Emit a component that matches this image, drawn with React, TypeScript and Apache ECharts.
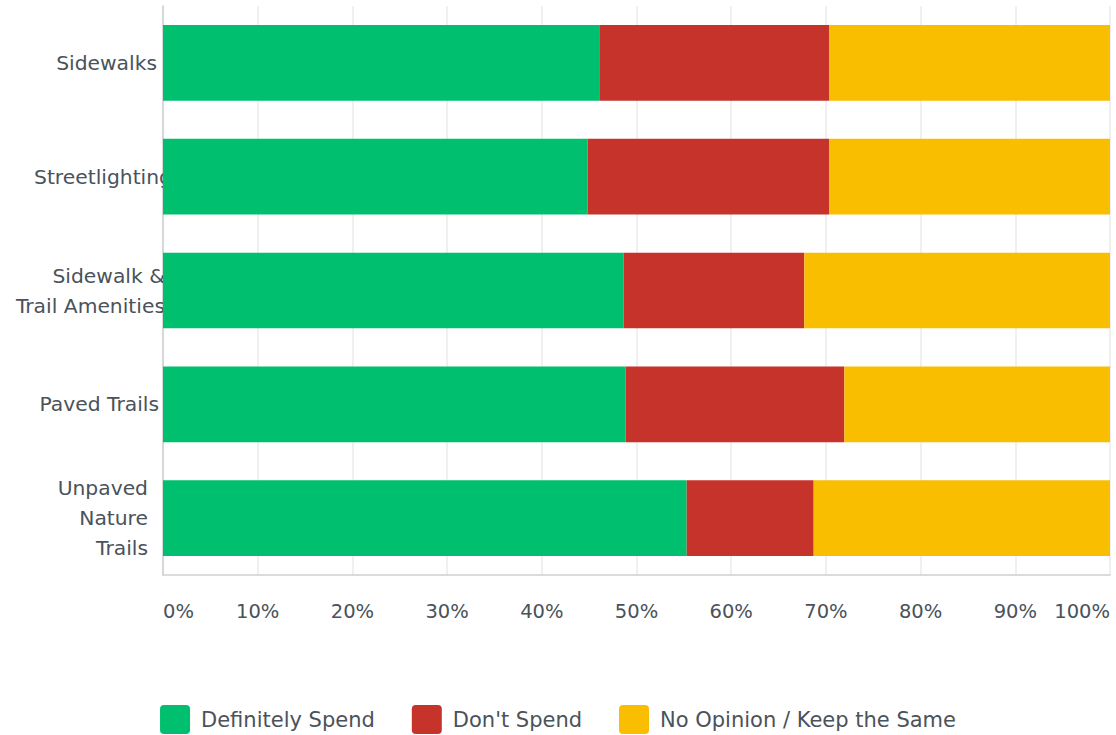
import React, { useEffect, useRef } from "react";
import * as echarts from "echarts";

const categories = [
  "Sidewalks",
  "Streetlighting",
  "Sidewalk &\nTrail Amenities",
  "Paved Trails",
  "Unpaved\nNature\nTrails",
];
const seriesNames = ["Definitely Spend", "Don't Spend", "No Opinion / Keep the Same"];
const definitelySpend = [46.07, 44.84, 48.64, 48.85, 55.3];
const dontSpend = [24.26, 25.49, 19.08, 23.1, 13.41];
const noOpinion = [29.67, 29.67, 32.28, 28.05, 31.29];
const xTicks = [0, 100, 10];

const colors = ["#00bf6f", "#c6332b", "#f9be00"];
const labelKeys = ["a", "b", "c", "d", "e"];
const FONT = "'DejaVu Sans', sans-serif";
const TEXT = "#4a525a";

export default function App() {
  const ref = useRef<HTMLDivElement>(null);
  useEffect(() => {
    if (!ref.current) return;
    const chart = echarts.init(ref.current, undefined, { renderer: "svg" });
    const richBase = { fontSize: 20.3, fontFamily: FONT, color: TEXT, lineHeight: 30 };
    const iconPath =
      "path://M4,0H26A4,4 0 0 1 30,4V25A4,4 0 0 1 26,29H4A4,4 0 0 1 0,25V4A4,4 0 0 1 4,0Z";
    chart.setOption({
      animation: false,
      color: colors,
      grid: { left: 163, right: 6, top: 6, bottom: 160, containLabel: false },
      legend: {
        data: seriesNames,
        left: "center",
        top: 700,
        itemWidth: 30,
        itemHeight: 29,
        itemGap: 37,
        icon: iconPath,
        textStyle: {
          fontSize: 21,
          fontFamily: FONT,
          color: TEXT,
          padding: [3, 0, 0, 6],
        },
      },
      xAxis: {
        type: "value",
        min: xTicks[0],
        max: xTicks[1],
        interval: xTicks[2],
        axisLine: { show: true, lineStyle: { color: "#cfcfcf", width: 1.5 } },
        axisTick: { show: false },
        splitLine: { show: true, lineStyle: { color: "#ebebeb", width: 1.5 } },
        axisLabel: {
          formatter: "{value}%",
          fontSize: 19.5,
          fontFamily: FONT,
          color: TEXT,
          margin: 26,
          alignMinLabel: "left",
          alignMaxLabel: "right",
        },
      },
      yAxis: {
        type: "category",
        inverse: true,
        data: categories,
        axisLine: { show: true, lineStyle: { color: "#cfcfcf", width: 1.5 } },
        axisTick: { show: false },
        splitLine: { show: false },
        axisLabel: {
          margin: -9,
          fontSize: 20.3,
          fontFamily: FONT,
          color: TEXT,
          lineHeight: 30,
          align: "right",
          formatter: (value: string, index: number) => {
            const key = labelKeys[index];
            return value
              .split("\n")
              .map((line) => `{${key}|${line}}`)
              .join("\n");
          },
          rich: {
            a: { ...richBase, padding: [0, 15, 0, 0] },
            b: { ...richBase, padding: [0, 0, 0, 0] },
            c: { ...richBase, padding: [0, 7, 0, 0] },
            d: { ...richBase, padding: [0, 13, 0, 0] },
            e: { ...richBase, padding: [0, 24, 0, 0] },
          },
        },
      },
      series: [
        { name: seriesNames[0], type: "bar", stack: "total", data: definitelySpend, barCategoryGap: "33.5%" },
        { name: seriesNames[1], type: "bar", stack: "total", data: dontSpend, barCategoryGap: "33.5%" },
        { name: seriesNames[2], type: "bar", stack: "total", data: noOpinion, barCategoryGap: "33.5%" },
      ],
    });
    return () => chart.dispose();
  }, []);
  return <div ref={ref} style={{ width: 1116, height: 735, position: "absolute", left: 0, top: 0 }} />;
}
